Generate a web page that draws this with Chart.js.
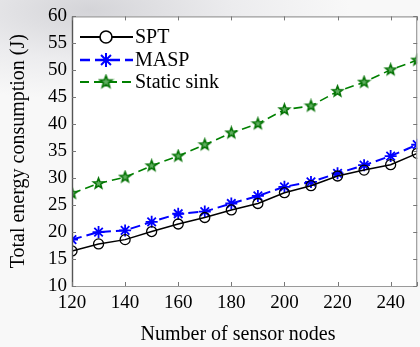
<!DOCTYPE html>
<html>
<head>
<meta charset="utf-8">
<script src="https://cdn.jsdelivr.net/npm/chart.js@4.4.0/dist/chart.umd.min.js"></script>
<style>
  html, body { margin: 0; padding: 0; overflow: hidden; }
  body {
    width: 420px; height: 347px;
    background: radial-gradient(ellipse 260px 90px at 90px 10px, #d4d4d8 0%, #ececee 55%, #f8f8f8 100%);
  }
  canvas { display: block; }
</style>
</head>
<body>
<canvas id="myChart" width="425" height="347"></canvas>
<script>
// datos
const nodes = [120, 130, 140, 150, 160, 170, 180, 190, 200, 210, 220, 230, 240, 250];
const spt = [16.5, 17.8, 18.6, 20.1, 21.5, 22.7, 24.1, 25.3, 27.3, 28.6, 30.4, 31.5, 32.5, 34.6];
const masp = [18.6, 20.0, 20.3, 21.9, 23.4, 23.8, 25.3, 26.7, 28.4, 29.3, 30.9, 32.4, 34.1, 36.2];
const staticSink = [27.2, 29.0, 30.2, 32.3, 34.1, 36.2, 38.4, 40.1, 42.7, 43.4, 46.1, 47.8, 50.1, 51.9];
const xTicks = [120, 140, 160, 180, 200, 220, 240, 250];
const yTicks = [10, 15, 20, 25, 30, 35, 40, 45, 50, 55, 60];
const labels = ['SPT', 'MASP', 'Static sink'];

const serif = "'Liberation Serif', 'Times New Roman', serif";
const canvas = document.getElementById('myChart');

// estrella de cinco puntas para "Static sink"
function makePentagram(r, fill, stroke) {
    const c = document.createElement('canvas');
    const s = Math.ceil(r * 2 + 4);
    c.width = s; c.height = s;
    const g = c.getContext('2d');
    g.beginPath();
    for (let i = 0; i < 10; i++) {
        const rad = i % 2 === 0 ? r : r * 0.42;
        const a = -Math.PI / 2 + i * Math.PI / 5;
        const px = s / 2 + rad * Math.cos(a);
        const py = s / 2 + rad * Math.sin(a);
        if (i === 0) g.moveTo(px, py); else g.lineTo(px, py);
    }
    g.closePath();
    g.fillStyle = fill;
    g.fill();
    g.lineWidth = 1.5;
    g.strokeStyle = stroke;
    g.stroke();
    return c;
}
const pentagram = makePentagram(5.5, '#5fae5f', '#007000');

const toPoints = ys => nodes.map((x, i) => ({ x, y: ys[i] }));

const datasets = [
    {
        label: labels[0],
        data: toPoints(spt),
        borderColor: '#000000',
        backgroundColor: 'transparent',
        borderWidth: 1.5,
        pointStyle: 'circle',
        pointRadius: 5,
        pointBorderWidth: 1.3,
        pointBorderColor: '#000000',
        pointBackgroundColor: 'transparent'
    },
    {
        label: labels[1],
        data: toPoints(masp),
        borderColor: '#0000ff',
        backgroundColor: 'transparent',
        borderWidth: 2,
        borderDash: [10, 5],
        pointStyle: 'star',
        pointRadius: 6,
        pointBorderWidth: 1.8,
        pointBorderColor: '#0000ff'
    },
    {
        label: labels[2],
        data: toPoints(staticSink),
        borderColor: '#008000',
        backgroundColor: 'transparent',
        borderWidth: 1.6,
        borderDash: [9, 5],
        pointStyle: pentagram,
        pointRadius: 6
    }
];

// fondo blanco, marco y marcas hacia dentro
const framePlugin = {
    id: 'frame',
    beforeDraw(chart) {
        const { ctx, chartArea: a } = chart;
        ctx.save();
        ctx.fillStyle = '#ffffff';
        ctx.fillRect(a.left, a.top, a.right - a.left, a.bottom - a.top);
        ctx.restore();
    },
    afterDatasetsDraw(chart) {
        const { ctx, chartArea: a, scales } = chart;
        ctx.save();
        ctx.lineWidth = 1.2;
        ctx.strokeStyle = '#9a9a9a';
        ctx.beginPath();
        ctx.moveTo(a.left, a.top + 0.5); ctx.lineTo(a.right, a.top + 0.5);
        ctx.moveTo(a.left, a.bottom + 0.5); ctx.lineTo(a.right, a.bottom + 0.5);
        ctx.moveTo(a.right - 0.5, a.top); ctx.lineTo(a.right - 0.5, a.bottom);
        ctx.stroke();
        ctx.strokeStyle = '#555555';
        ctx.lineWidth = 1.4;
        ctx.beginPath();
        ctx.moveTo(a.left + 0.5, a.top); ctx.lineTo(a.left + 0.5, a.bottom + 1);
        ctx.stroke();
        ctx.strokeStyle = '#777777';
        ctx.lineWidth = 1;
        ctx.beginPath();
        xTicks.forEach(v => {
            const px = Math.round(scales.x.getPixelForValue(v)) + 0.5;
            ctx.moveTo(px, a.bottom); ctx.lineTo(px, a.bottom - 4);
            ctx.moveTo(px, a.top); ctx.lineTo(px, a.top + 4);
        });
        yTicks.forEach(v => {
            const py = Math.round(scales.y.getPixelForValue(v)) + 0.5;
            ctx.moveTo(a.left, py); ctx.lineTo(a.left + 4, py);
            ctx.moveTo(a.right, py); ctx.lineTo(a.right - 4, py);
        });
        ctx.stroke();
        ctx.restore();
    },
    afterDraw(chart) {
        const { ctx, chartArea: a } = chart;
        ctx.save();
        ctx.fillStyle = '#000000';
        ctx.font = '20px ' + serif;
        ctx.textAlign = 'center';
        ctx.textBaseline = 'middle';
        ctx.fillText('Number of sensor nodes', 238, 335);
        ctx.translate(19, (a.top + a.bottom) / 2);
        ctx.rotate(-Math.PI / 2);
        ctx.fillText('Total energy consumption (J)', 0, 0);
        ctx.restore();

        // leyenda con línea y marcador
        ctx.save();
        const rows = [37, 60, 82];
        chart.data.datasets.forEach((ds, i) => {
            const y = rows[i];
            ctx.strokeStyle = ds.borderColor;
            ctx.lineWidth = ds.borderWidth + 0.3;
            ctx.setLineDash(ds.borderDash || []);
            ctx.beginPath();
            ctx.moveTo(80, y); ctx.lineTo(133, y);
            ctx.stroke();
            ctx.setLineDash([]);
            if (ds.pointStyle === 'circle') {
                ctx.fillStyle = '#ffffff';
                ctx.beginPath();
                ctx.arc(106, y, 6, 0, Math.PI * 2);
                ctx.fill();
                ctx.lineWidth = 1.6;
                ctx.stroke();
            } else if (ds.pointStyle === 'star') {
                ctx.lineWidth = 2;
                ctx.beginPath();
                for (let k = 0; k < 4; k++) {
                    const ang = k * Math.PI / 4;
                    ctx.moveTo(106 - 7 * Math.cos(ang), y - 7 * Math.sin(ang));
                    ctx.lineTo(106 + 7 * Math.cos(ang), y + 7 * Math.sin(ang));
                }
                ctx.stroke();
            } else {
                const img = makePentagram(6.5, '#5fae5f', '#007000');
                ctx.drawImage(img, 106 - img.width / 2, y - img.height / 2);
            }
            ctx.fillStyle = '#000000';
            ctx.font = '20px ' + serif;
            ctx.textAlign = 'left';
            ctx.textBaseline = 'middle';
            ctx.fillText(ds.label, 135, y + 1);
        });
        ctx.restore();
    }
};

new Chart(canvas, {
    type: 'line',
    data: { datasets },
    options: {
        responsive: false,
        animation: false,
        layout: { padding: { left: 0, top: 16, right: 3, bottom: 0 } },
        plugins: {
            legend: { display: false },
            tooltip: { enabled: false }
        },
        scales: {
            x: {
                type: 'linear',
                min: 120,
                max: 250,
                afterBuildTicks: s => { s.ticks = xTicks.map(v => ({ value: v })); },
                afterFit: s => { s.height = 61; },
                grid: { display: false, drawTicks: false },
                border: { display: false },
                ticks: {
                    color: '#000000',
                    font: { family: serif, size: 19 },
                    padding: 6,
                    maxRotation: 0,
                    autoSkip: false,
                    callback: v => (v === 250 ? '' : String(v))
                }
            },
            y: {
                min: 10,
                max: 60,
                afterBuildTicks: s => { s.ticks = yTicks.map(v => ({ value: v })); },
                afterFit: s => { s.width = 72; },
                grid: { display: false, drawTicks: false },
                border: { display: false },
                ticks: {
                    color: '#000000',
                    font: { family: serif, size: 19 },
                    padding: 5
                }
            }
        }
    },
    plugins: [framePlugin]
});
</script>
</body>
</html>
